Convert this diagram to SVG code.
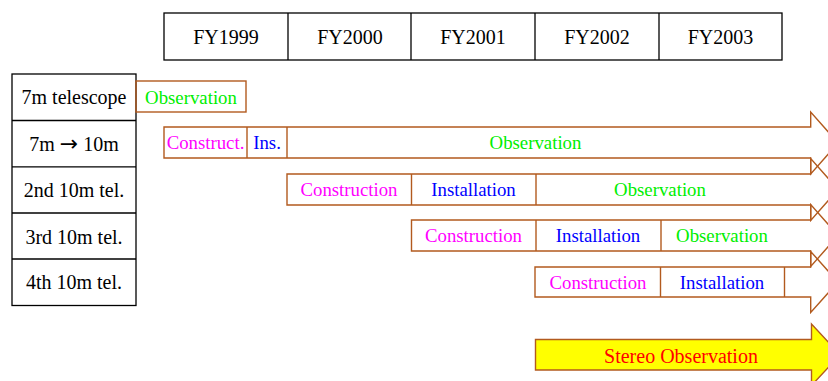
<svg xmlns="http://www.w3.org/2000/svg" width="828" height="381" viewBox="0 0 828 381">
<style>
.hdr{fill:#fff;stroke:#000;stroke-width:1.3}
.lbl{font-family:"Liberation Serif","Times New Roman",serif;font-size:20px;fill:#000;text-anchor:middle}
.cell{font-family:"Liberation Serif","Times New Roman",serif;font-size:18.8px;text-anchor:middle}
.arr{fill:none;stroke:#b25a1e;stroke-width:1.4}
.div{stroke:#b25a1e;stroke-width:1.4}
.g{fill:#00ee00}.m{fill:#ff00ff}.b{fill:#0000ff}.r{fill:#ff0000}
</style>
<rect width="828" height="381" fill="#fff"/>
<g id="header">
<rect class="hdr" x="164" y="13" width="618" height="47"/>
<line class="hdr" x1="288" y1="13" x2="288" y2="60"/>
<line class="hdr" x1="411" y1="13" x2="411" y2="60"/>
<line class="hdr" x1="535" y1="13" x2="535" y2="60"/>
<line class="hdr" x1="659" y1="13" x2="659" y2="60"/>
<text class="lbl" x="226" y="44">FY1999</text>
<text class="lbl" x="350" y="44">FY2000</text>
<text class="lbl" x="473" y="44">FY2001</text>
<text class="lbl" x="597" y="44">FY2002</text>
<text class="lbl" x="720.5" y="44">FY2003</text>
</g>
<g id="labels">
<rect class="hdr" x="12" y="74" width="124" height="231.5"/>
<line class="hdr" x1="12" y1="120.5" x2="136" y2="120.5"/>
<line class="hdr" x1="12" y1="166.8" x2="136" y2="166.8"/>
<line class="hdr" x1="12" y1="213" x2="136" y2="213"/>
<line class="hdr" x1="12" y1="259" x2="136" y2="259"/>
<text class="lbl" x="74" y="104">7m telescope</text>
<text class="lbl" x="74" y="150.5">7m <tspan font-family="DejaVu Sans" font-size="22">→</tspan> 10m</text>
<text class="lbl" x="74" y="196.7">2nd 10m tel.</text>
<text class="lbl" x="74" y="243.5">3rd 10m tel.</text>
<text class="lbl" x="74" y="289.3">4th 10m tel.</text>
</g>
<g id="row1">
<rect class="arr" x="136" y="81" width="110" height="31"/>
<text class="cell g" x="191" y="104">Observation</text>
</g>
<g id="row2">
<path class="arr" d="M164,127 H810.7 V112 L838,143 L810.7,174 V158 H164 Z"/>
<line class="div" x1="247" y1="127" x2="247" y2="158"/>
<line class="div" x1="287" y1="127" x2="287" y2="158"/>
<text class="cell m" x="205.5" y="149">Construct.</text>
<text class="cell b" x="267" y="149">Ins.</text>
<text class="cell g" x="535.5" y="149">Observation</text>
</g>
<g id="row3">
<path class="arr" d="M287,174 H810.7 V158.5 L838,189.5 L810.7,220.5 V205 H287 Z"/>
<line class="div" x1="411.5" y1="174" x2="411.5" y2="205"/>
<line class="div" x1="536" y1="174" x2="536" y2="205"/>
<text class="cell m" x="349" y="196">Construction</text>
<text class="cell b" x="473.5" y="196">Installation</text>
<text class="cell g" x="660" y="196">Observation</text>
</g>
<g id="row4">
<path class="arr" d="M411.5,220 H810.7 V204.5 L838,235.5 L810.7,266.5 V251 H411.5 Z"/>
<line class="div" x1="536" y1="220" x2="536" y2="251"/>
<line class="div" x1="661" y1="220" x2="661" y2="251"/>
<text class="cell m" x="473.5" y="242">Construction</text>
<text class="cell b" x="598" y="242">Installation</text>
<text class="cell g" x="722" y="242">Observation</text>
</g>
<g id="row5">
<path class="arr" d="M535,267 H810.7 V251.5 L838,282 L810.7,312.5 V297 H535 Z"/>
<line class="div" x1="660.5" y1="267" x2="660.5" y2="297"/>
<line class="div" x1="784.5" y1="267" x2="784.5" y2="297"/>
<text class="cell m" x="598" y="289">Construction</text>
<text class="cell b" x="722" y="289">Installation</text>
</g>
<g id="stereo">
<path d="M535.5,339.5 H811.5 V324 L840,354.7 L811.5,385.5 V370 H535.5 Z" fill="#ffff00" stroke="#b25a1e" stroke-width="1.4"/>
<text class="lbl r" x="681" y="362.5">Stereo Observation</text>
</g>
<g id="connectors"/>
</svg>
